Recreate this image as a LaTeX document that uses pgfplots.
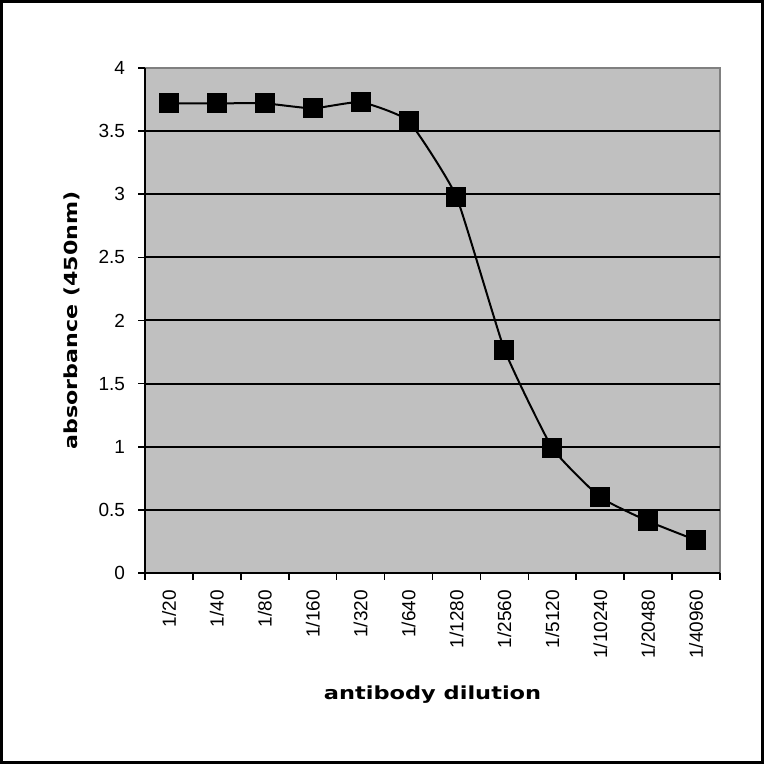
\documentclass[border=0pt]{standalone}
\usepackage{fontspec}
\setmainfont{Liberation Sans}
\newfontfamily\labfont{DejaVu Sans}
\usepackage{graphicx}
\usepackage{pgfplots}
\pgfplotsset{compat=1.18}
\definecolor{plotgray}{HTML}{C0C0C0}
\definecolor{edgegray}{HTML}{808080}

\begin{document}
\begin{tikzpicture}
	\useasboundingbox (0,0) rectangle (382pt,382pt);
	\fill[white] (0,0) rectangle (382pt,382pt);
	\begin{axis}[
			at={(72.5pt,95.5pt)}, anchor=south west,
			scale only axis,
			width=287.5pt, height=252.5pt,
			xmin=-0.5, xmax=11.5,
			ymin=0, ymax=4,
			axis x line*=bottom,
			axis y line*=left,
			axis line style={black, line width=1pt},
			axis background/.style={fill=plotgray, draw=edgegray, line width=0.6pt},
			tick align=outside,
			major tick length=3.5pt,
			tick style={black, line width=0.8pt},
			/pgf/number format/assume math mode=true,
			tick label style={font=\fontsize{9.5}{11}\selectfont},
			ytick={0,0.5,...,4},
			yticklabel style={xshift=-3pt},
			ymajorgrids,
			major grid style={black, line width=1pt},
			xtick={-0.5,0.5,...,11.5},
			xticklabels={},
			extra x ticks={0,1,2,3,4,5,6,7,8,9,10,11},
			extra x tick labels={1/20,1/40,1/80,1/160,1/320,1/640,1/1280,1/2560,1/5120,1/10240,1/20480,1/40960},
			extra x tick style={major tick length=0pt, xticklabel style={rotate=90, anchor=east, xshift=-5pt}},
			xlabel={\labfont\bfseries\fontsize{9}{10}\selectfont\scalebox{1.25}[1]{antibody dilution}},
			xlabel style={at={(axis description cs:0.5,-0.24)}, anchor=center},
			ylabel={\labfont\bfseries\fontsize{9}{10}\selectfont\scalebox{1.23}[1]{absorbance (450nm)}},
			ylabel style={at={(axis description cs:-0.127,0.5)}, anchor=center},
			clip=false,
		]

		\addplot [black, line width=1pt, smooth, tension=0.25,
			mark=square*, mark size=4.5pt, mark options={solid, fill=black}] coordinates {
			(0,3.72)
			(1,3.72)
			(2,3.72)
			(3,3.68)
			(4,3.73)
			(5,3.58)
			(6,2.98)
			(7,1.77)
			(8,0.99)
			(9,0.60)
			(10,0.41)
			(11,0.26)
		};

		\draw[edgegray, line width=1pt] (rel axis cs:0,1) -- (rel axis cs:1,1);
		\draw[black, line width=1pt] (rel axis cs:0,0) -- (rel axis cs:0,1);

	\end{axis}
	\draw[black, line width=1.5pt] (0.75pt,0.75pt) rectangle (381.25pt,381.25pt);
\end{tikzpicture}
\end{document}
